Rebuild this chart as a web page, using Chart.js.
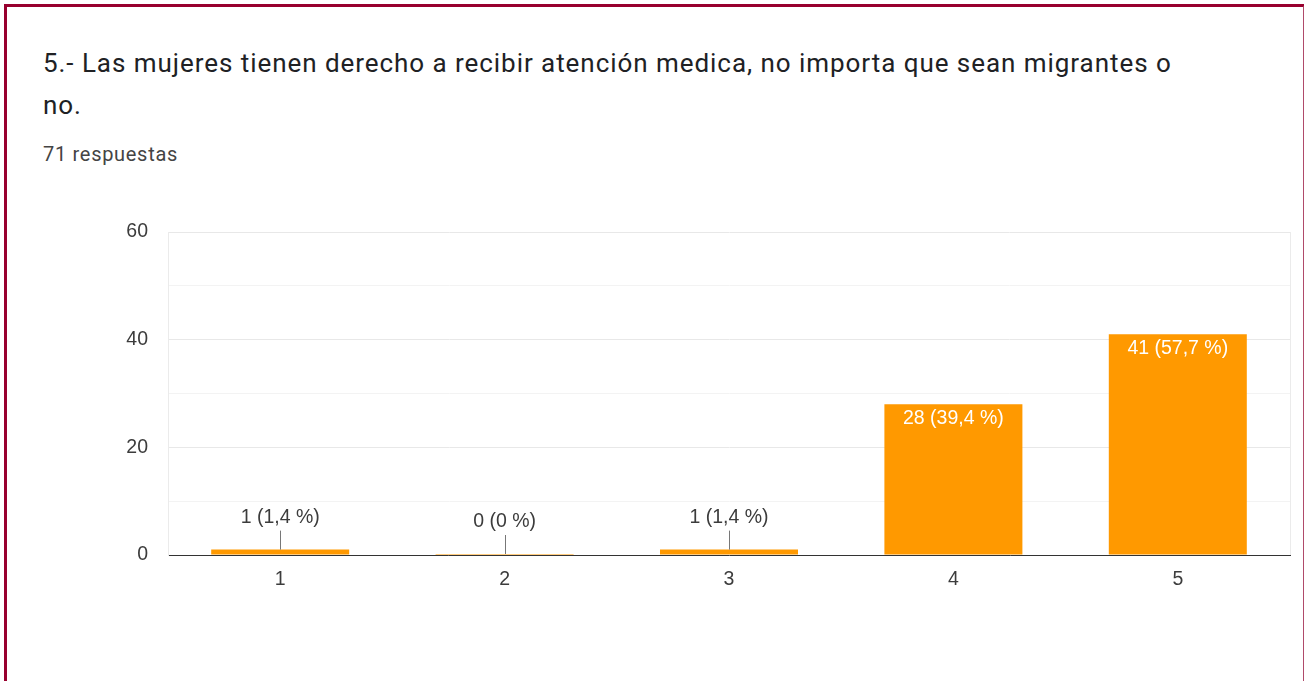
<!DOCTYPE html>
<html>
<head>
<meta charset="utf-8">
<script src="https://cdn.jsdelivr.net/npm/chart.js@4.4.0/dist/chart.umd.min.js"></script>
<style>
  body{margin:0;background:#fff;width:1304px;height:681px;overflow:hidden;position:relative;font-family:Roboto,sans-serif}
  #frame{position:absolute;left:4px;top:4px;width:1296px;height:700px;border:3px solid #98002e;border-right:2px solid #b04a6a;border-bottom:none}
  #title{position:absolute;left:43px;top:42px;font-size:26px;letter-spacing:0.95px;line-height:42px;color:#202124;margin:0;font-weight:400;white-space:nowrap}
  #count{position:absolute;left:43px;top:142px;font-size:20px;letter-spacing:0.7px;color:#444}
  #wrap{position:absolute;left:0;top:0;width:1304px;height:681px}
</style>
</head>
<body>
<div id="frame"></div>
<div id="title">5.- Las mujeres tienen derecho a recibir atención medica, no importa que sean migrantes o<br>no.</div>
<div id="count">71 respuestas</div>
<div id="wrap"><canvas id="mychart"></canvas></div>
<script>
var categories=["1","2","3","4","5"]
var counts=[1,0,1,28,41]
var percents=["1,4","0","1,4","39,4","57,7"]
var yTicks=[0,20,40,60]

var labelFont='"Liberation Sans", Arial, sans-serif'

// labels over / inside the bars, like the forms summary
var barLabels={
  id:'barLabels',
  afterDatasetsDraw:function(chart){
    var ctx=chart.ctx
    var meta=chart.getDatasetMeta(0)
    ctx.save()
    ctx.font='19.5px '+labelFont
    ctx.textAlign='center'
    ctx.textBaseline='middle'
    meta.data.forEach(function(bar,i){
      var txt=counts[i]+' ('+percents[i]+' %)'
      var h=bar.base-bar.y
      if(h>30){
        ctx.fillStyle='#fff'
        ctx.fillText(txt,bar.x,bar.y+14)
      }else{
        ctx.strokeStyle='#777'
        ctx.lineWidth=1
        ctx.beginPath()
        ctx.moveTo(Math.round(bar.x)+0.5,bar.y)
        ctx.lineTo(Math.round(bar.x)+0.5,bar.y-19)
        ctx.stroke()
        ctx.fillStyle='#3c3c3c'
        ctx.fillText(txt,bar.x,bar.y-32)
      }
    })
    // right edge of the plot
    var a=chart.chartArea
    ctx.strokeStyle='#ebebeb'
    ctx.beginPath()
    ctx.moveTo(a.right+0.5,a.top)
    ctx.lineTo(a.right+0.5,a.bottom)
    ctx.stroke()
    ctx.restore()
  }
}

var chart=new Chart(document.getElementById("mychart").getContext('2d'),{
  type:'bar',
  data:{
    labels:categories,
    datasets:[{
      data:counts,
      backgroundColor:"#ff9900",
      barPercentage:0.615,
      categoryPercentage:1,
      minBarLength:1
    }]
  },
  options:{
    responsive:true,
    maintainAspectRatio:false,
    animation:false,
    layout:{padding:{top:232,right:14,bottom:86,left:0}},
    plugins:{legend:{display:false},tooltip:{enabled:false}},
    scales:{
      x:{
        grid:{display:false,drawTicks:false},
        border:{color:'#333',width:1},
        ticks:{color:'#3c3c3c',font:{family:labelFont,size:19.5},padding:13},
        afterFit:function(s){s.height=40}
      },
      y:{
        min:0,max:60,
        grid:{drawTicks:false,color:function(c){return c.tick.value%20===0?'#e8e8e8':'#f3f3f3'}},
        border:{color:'#ebebeb'},
        ticks:{stepSize:10,color:'#3c3c3c',font:{family:labelFont,size:19.5},padding:20,
          callback:function(v){return yTicks.indexOf(v)>=0?v:''}},
        afterFit:function(s){s.width=168}
      }
    }
  },
  plugins:[barLabels]
})
</script>
</body>
</html>
